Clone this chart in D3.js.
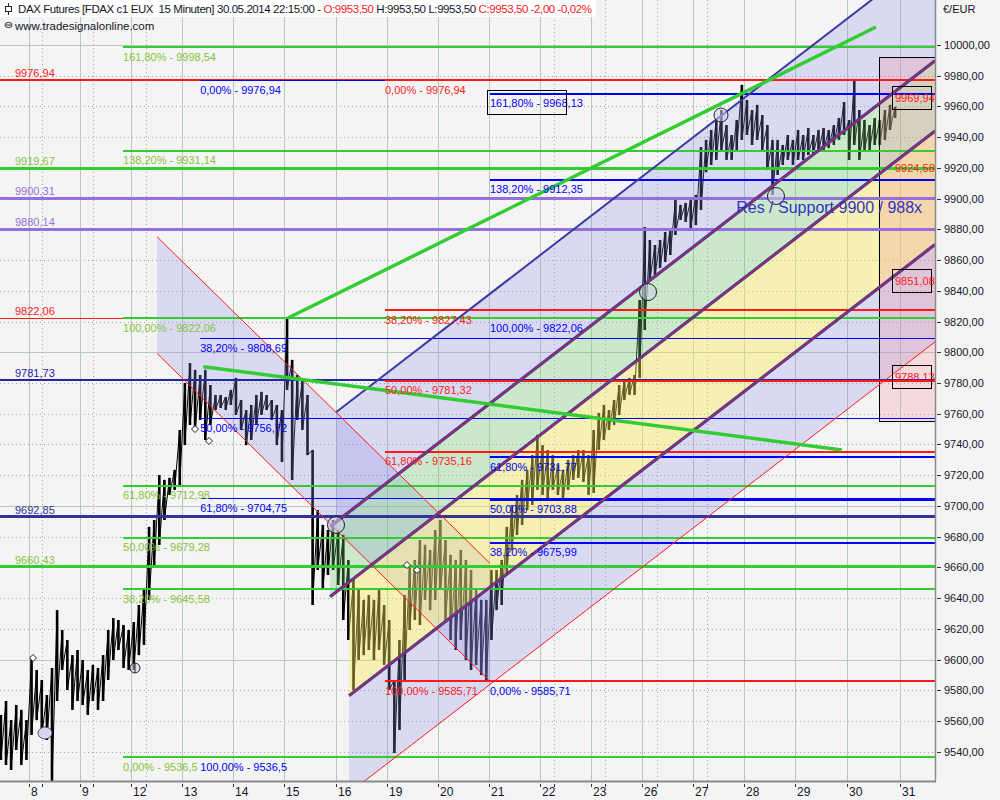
<!DOCTYPE html>
<html><head><meta charset="utf-8">
<script src="https://cdn.jsdelivr.net/npm/d3@7"></script>
<style>
body{margin:0;background:#f4f4f4;}
svg{display:block;font-family:"Liberation Sans",Arial,sans-serif;}
</style>
</head><body><svg id="c" width="1000" height="800"></svg>
<script>
// ---------------- DATA ----------------
const dayLabels = ["8","9","12","13","14","15","16","19","20","21","22","23","26","27","28","29","30","31"];
const dayTicks  = [0,1,2,3,4,5,6,7,8,9,10,11,12,13,14,15,16,17.05];
const minorTickDays = [0.26,1.26,2.28,10.27,11.28,12.28,13.27];
const yTicks = [9540,9560,9580,9600,9620,9640,9660,9680,9700,9720,9740,9760,9780,9800,9820,9840,9860,9880,9900,9920,9940,9960,9980,10000];
const yTickLabels = yTicks.map(v => v.toFixed(2).replace(".", ","));

const headerParts = ["DAX Futures [FDAX c1 EUX  15 Minuten] 30.05.2014 22:15:00 - ", "O:9953,50", " H:9953,50 L:9953,50 ", "C:9953,50 -2,00 -0,02%"];
const subTitle = "www.tradesignalonline.com";
const unitLabel = "€/EUR";

// price buckets (time in trading-day index; 0 = May 8)
const priceStart = -0.55, priceStep = 0.1;
const priceHigh = [9563.9,9573.0,9560.6,9570.4,9567.2,9560.6,9601.0,9593.2,9586.7,9576.9,
 9594.5,9632.2,9619.2,9612.7,9602.9,9606.2,9599.7,9593.2,9596.5,9594.5,
 9602.9,9619.2,9627.0,9625.7,9622.5,9619.2,9624.4,9635.5,9645.3,9686.3,
 9690.8,9720.1,9716.9,9718.2,9723.4,9749.4,9780.0,9793.0,9788.5,9785.2,
 9788.5,9778.7,9772.2,9772.2,9770.9,9775.5,9783.3,9768.9,9762.4,9765.7,
 9772.2,9774.2,9772.2,9768.9,9765.7,9762.4,9822.3,9795.0,9785.2,9782.0,
 9772.2,9736.4,9697.3,9687.6,9684.3,9690.8,9684.3,9681.1,9664.8,9651.8,
 9645.3,9638.8,9642.0,9638.8,9645.3,9635.5,9625.7,9586.7,9612.7,9642.0,
 9661.5,9664.8,9677.8,9674.6,9671.3,9684.3,9690.8,9677.8,9668.1,9664.8,
 9671.3,9664.8,9658.3,9645.3,9638.8,9638.8,9658.3,9658.3,9664.8,9686.3,
 9700.6,9707.1,9716.9,9723.4,9733.1,9746.2,9739.6,9736.4,9733.1,9726.6,
 9723.4,9729.9,9733.1,9736.4,9736.4,9733.1,9749.4,9760.5,9765.7,9762.4,
 9768.9,9778.7,9782.0,9783.3,9785.2,9834.0,9881.5,9873.1,9869.8,9873.1,
 9878.3,9880.9,9899.1,9895.9,9897.2,9899.1,9902.4,9933.6,9938.2,9944.7,
 9951.2,9957.7,9947.9,9941.4,9951.2,9974.0,9964.2,9957.7,9961.0,9954.4,
 9947.9,9938.2,9938.2,9934.9,9941.4,9938.2,9944.7,9941.4,9946.0,9941.4,
 9944.7,9946.0,9944.7,9947.9,9952.5,9962.9,9951.2,9977.9,9957.7,9951.2,
 9947.9,9952.5,9951.2,9957.7,9961.0,9959.7];
const priceLow = [9534.6,9531.4,9528.1,9541.1,9531.4,9534.6,9550.9,9560.6,9550.9,9547.6,
 9518.3,9573.0,9593.2,9580.2,9567.2,9573.0,9570.4,9563.9,9573.0,9567.2,
 9573.0,9586.7,9599.7,9606.2,9594.5,9593.2,9593.2,9602.9,9609.5,9638.8,
 9661.5,9674.6,9690.8,9707.1,9710.4,9713.6,9739.6,9752.7,9749.4,9755.9,
 9742.9,9752.7,9762.4,9763.7,9762.4,9765.7,9759.2,9749.4,9739.6,9742.9,
 9752.7,9759.2,9762.4,9755.9,9739.6,9728.6,9775.5,9716.9,9755.9,9749.4,
 9733.1,9635.5,9658.3,9645.3,9655.0,9658.3,9648.5,9625.7,9612.7,9580.2,
 9599.7,9602.9,9606.2,9599.7,9606.2,9596.5,9580.2,9539.2,9554.1,9586.7,
 9619.2,9625.7,9622.5,9638.8,9632.2,9638.8,9645.3,9625.7,9612.7,9606.2,
 9612.7,9599.7,9593.2,9596.5,9589.9,9586.0,9612.7,9632.2,9635.5,9655.0,
 9671.3,9681.1,9687.6,9697.3,9700.6,9710.4,9707.1,9703.9,9710.4,9707.1,
 9703.9,9710.4,9716.9,9718.2,9715.6,9707.1,9708.4,9736.4,9742.9,9749.4,
 9752.7,9759.2,9768.9,9772.2,9772.2,9783.3,9814.5,9847.1,9850.3,9854.9,
 9858.8,9863.3,9876.3,9886.1,9884.8,9880.9,9882.8,9892.6,9917.3,9921.9,
 9925.2,9931.7,9925.2,9925.2,9931.7,9938.2,9941.4,9934.9,9938.2,9931.7,
 9918.6,9902.4,9915.4,9921.9,9925.2,9921.9,9925.2,9925.2,9928.4,9928.4,
 9930.4,9931.7,9932.9,9934.9,9938.2,9941.4,9925.2,9934.9,9925.2,9931.7,
 9931.7,9934.9,9934.9,9938.2,9944.7,9952.5];

// full-width horizontal levels
const levelValues = [9976.94, 9919.67, 9900.31, 9880.14, 9822.06, 9781.73, 9692.85, 9660.43];
const levelLabels = ["9976,94","9919,67","9900,31","9880,14","9822,06","9781,73","9692,85","9660,43"];
const levelKinds  = ["red","green","purple","purple","redThin","navy","navyThick","green"];

// Fibonacci drawings
const greenFibStart = 1.84;
const greenFibValues = [9536.5, 9645.58, 9679.28, 9712.98, 9822.06, 9931.14, 9998.54];
const greenFibLabels = ["0,00% - 9536,5","38,20% - 9645,58","50,00% - 9679,28","61,80% - 9712,98","100,00% - 9822,06","138,20% - 9931,14","161,80% - 9998,54"];
const blueFib1Start = 3.35;
const blueFib1Values = [9976.94, 9808.69, 9756.72, 9704.75, 9536.5];
const blueFib1Labels = ["0,00% - 9976,94","38,20% - 9808,69","50,00% - 9756,72","61,80% - 9704,75","100,00% - 9536,5"];
const redFibStart = 6.967;
const redFibValues = [9976.94, 9827.43, 9781.32, 9735.16, 9585.71];
const redFibLabels = ["0,00% - 9976,94","38,20% - 9827,43","50,00% - 9781,32","61,80% - 9735,16","100,00% - 9585,71"];
const blueFib2Start = 9.02;
const blueFib2Values = [9585.71, 9675.99, 9703.88, 9731.77, 9822.06, 9912.35, 9968.13];
const blueFib2Labels = ["0,00% - 9585,71","38,20% - 9675,99","50,00% - 9703,88","61,80% - 9731,77","100,00% - 9822,06","138,20% - 9912,35","161,80% - 9968,13"];

// rising channel lines (start day/price, end day/price)
const chStartDay   = [6.008, 5.89, 5.89, 6.262, 6.262];
const chStartPrice = [9760.9, 9686.5, 9640.8, 9576.4, 9513.1];
const chEndDay     = [17.73, 17.73, 17.73, 17.73, 17.73];
const chEndPrice   = [10061.1, 9989.7, 9944.0, 9870.1, 9806.8];
const chBandStartDay = [6.008, 5.89, 6.262, 6.262];
const chBandKinds = ["lav","green","yellow","lav"];

// falling channel
const dcStartDay = 2.505, dcEndDay = 9.022;
const dcUpper = [9875.2, 9662.6];
const dcLower = [9799.3, 9585.7];

// green trend lines
const trendStartDay   = [5.069, 3.411];
const trendStartPrice = [9822.3, 9790.6];
const trendEndDay     = [16.575, 15.904];
const trendEndPrice   = [10011.7, 9736.4];

// markers
const markerDay   = [0.313, 2.074, 6.008, 12.114, 13.542, 14.618, 0.078, 3.249, 3.523, 7.397, 7.593];
const markerPrice = [9552.2, 9594.5, 9687.6, 9839.2, 9954.4, 9901.7, 9601.0, 9750.0, 9742.2, 9661.5, 9658.3];
const markerKind  = ["blob","small","big","big","mid","big","dia","dia","dia","dia","dia"];

// right projection box
const boxStartDay = 16.634, boxTopPrice = 9992.2, boxBottomPrice = 9755.3;
const boxLabelValues = [9969.94, 9924.58, 9851.08, 9788.13];
const boxLabelTexts  = ["9969,94","9924,58","9851,08","9788,13"];
const boxLabelFramed = [true, false, true, true];

const noteText = "Res / Support 9900 / 988x";
const noteDay = 13.84, notePrice = 9890.6;

// ---------------- STYLES ----------------
const C = {
  bg:"#f4f4f4", gridV:"#b7cab7", gridDot:"#a6a6a6", axis:"#8a8a8a",
  red:"#ff1a1a", green:"#33cc33", greenTxt:"#86c43a", purple:"#9370db",
  navy:"#2424a6", navyThick:"#333399", blue:"#0000ff", chan:"#3b3ba3",
  text:"#141428"
};
const levelStyle = {
  red:{c:C.red,w:2,t:C.red}, redThin:{c:C.red,w:1,t:C.red},
  green:{c:C.green,w:3,t:C.greenTxt}, purple:{c:C.purple,w:3,t:C.purple},
  navy:{c:C.navy,w:2,t:C.navy}, navyThick:{c:C.navyThick,w:3,t:C.navyThick}
};
const bandFill = { lav:"rgba(140,140,232,0.26)", green:"rgba(110,205,110,0.30)", yellow:"rgba(250,238,80,0.40)" };

// ---------------- SCALES ----------------
const PR = 935, PB = 781;
const x = d3.scaleLinear().domain([-29/51.1, (935-29)/51.1]).range([0, PR]);
const y = d3.scaleLinear().domain([9540, 10000]).range([751.7, 45]);
const snap = (v, w) => (w % 2 === 1 ? Math.round(y(v) - 0.5) + 0.5 : Math.round(y(v)));

const svg = d3.select("#c");
svg.append("rect").attr("width",1000).attr("height",800).attr("fill",C.bg);
svg.append("defs").append("clipPath").attr("id","clip")
  .append("rect").attr("x",0).attr("y",0).attr("width",PR).attr("height",PB);
const g = svg.append("g").attr("clip-path","url(#clip)");

// ---------------- GRID ----------------
const grid = g.append("g");
yTicks.forEach(v => {
  const yy = Math.round(y(v)) + 0.5;
  const solid = v % 100 === 0;
  grid.append("line").attr("x1",0).attr("x2",PR).attr("y1",yy).attr("y2",yy)
    .attr("stroke", solid ? C.gridV : C.gridDot).attr("stroke-width",1)
    .attr("stroke-dasharray", solid ? null : "1,3");
});
dayTicks.forEach(d => {
  const xx = Math.round(x(d)) + 0.5;
  grid.append("line").attr("x1",xx).attr("x2",xx).attr("y1",0).attr("y2",PB)
    .attr("stroke",C.gridV).attr("stroke-width",1);
});
minorTickDays.forEach(d => {
  const xx = Math.round(x(d)) + 0.5;
  grid.append("line").attr("x1",xx).attr("x2",xx).attr("y1",0).attr("y2",PB)
    .attr("stroke",C.gridDot).attr("stroke-dasharray","1,3");
});

// ---------------- PRICE (15-min range bars) ----------------
const pX = i => x(priceStart + i*priceStep);
const idx = d3.range(priceHigh.length);
let dp = "";
idx.forEach(i => {
  dp += (i ? "L" : "M") + pX(i).toFixed(1) + "," + y(priceHigh[i]).toFixed(1) + "L" + pX(i).toFixed(1) + "," + y(priceLow[i]).toFixed(1);
});
g.append("path").attr("d",dp).attr("fill","none").attr("stroke","#000").attr("stroke-width",1);
g.selectAll("rect.bar").data(idx).join("rect").attr("class","bar")
  .attr("x", i => pX(i) - 1.3).attr("width", 2.6)
  .attr("y", i => y(priceHigh[i])).attr("height", i => Math.max(1, y(priceLow[i]) - y(priceHigh[i])))
  .attr("fill","#000");

// ---------------- FILLS ----------------
const lineP = (k, d) => chStartPrice[k] + (chEndPrice[k]-chStartPrice[k]) * (d - chStartDay[k]) / (chEndDay[k]-chStartDay[k]);
const endD = x.domain()[1];
g.append("path").attr("d", d3.line()([
  [x(dcStartDay), y(dcUpper[0])],[x(dcEndDay), y(dcUpper[1])],
  [x(dcEndDay), y(dcLower[1])],[x(dcStartDay), y(dcLower[0])]]) + "Z")
  .attr("fill", bandFill.lav);
chBandKinds.forEach((kind,k) => {
  const s = chBandStartDay[k];
  g.append("path").attr("d", d3.line()([
    [x(s), y(lineP(k,s))],[x(endD), y(lineP(k,endD))],
    [x(endD), y(lineP(k+1,endD))],[x(s), y(lineP(k+1,s))]]) + "Z")
    .attr("fill", bandFill[kind]);
});
g.append("rect").attr("x", Math.round(x(boxStartDay)) + 0.5).attr("y", Math.round(y(boxTopPrice)) + 0.5)
  .attr("width", PR - x(boxStartDay) + 2).attr("height", Math.round(y(boxBottomPrice) - y(boxTopPrice)))
  .attr("fill","rgba(248,140,150,0.25)").attr("stroke","#000").attr("stroke-width",1);

// ---------------- HORIZONTAL LEVELS ----------------
const hl = (v, x1, col, w) => { const yy = snap(v, w);
  g.append("line").attr("x1",x1).attr("x2",PR+2).attr("y1",yy).attr("y2",yy).attr("stroke",col).attr("stroke-width",w); };
levelValues.forEach((v,i) => { const s = levelStyle[levelKinds[i]]; hl(v, 0, s.c, s.w); });
blueFib1Values.forEach(v => hl(v, x(blueFib1Start), C.blue, 1));
blueFib2Values.forEach(v => hl(v, x(blueFib2Start), C.blue, 2));
redFibValues.forEach(v => hl(v, x(redFibStart), C.red, 2));
greenFibValues.forEach(v => hl(v, x(greenFibStart), C.green, 2));

// ---------------- CHANNEL LINES ----------------
const seg = (d0,p0,d1,p1,col,w) => g.append("line").attr("x1",x(d0)).attr("y1",y(p0))
  .attr("x2",x(d1)).attr("y2",y(p1)).attr("stroke",col).attr("stroke-width",w);
seg(dcStartDay, dcUpper[0], dcEndDay, dcUpper[1], C.red, 1);
seg(dcStartDay, dcLower[0], dcEndDay, dcLower[1], C.red, 1);
chStartDay.forEach((d,k) => {
  if (k === 0) seg(d, chStartPrice[k], chEndDay[k], chEndPrice[k], C.chan, 2);
  else if (k < 4) { seg(d, chStartPrice[k], chEndDay[k], chEndPrice[k], C.chan, 3.2);
                    seg(d, chStartPrice[k], chEndDay[k], chEndPrice[k], C.red, 1); }
  else seg(d, chStartPrice[k], chEndDay[k], chEndPrice[k], C.red, 1);
});
trendStartDay.forEach((d,k) => seg(d, trendStartPrice[k], trendEndDay[k], trendEndPrice[k], C.green, 3.5));

// ---------------- MARKERS ----------------
markerKind.forEach((kind,i) => {
  const cx = x(markerDay[i]), cy = y(markerPrice[i]);
  if (kind === "dia") {
    g.append("path").attr("d",`M${cx},${cy-3.5}L${cx+3.5},${cy}L${cx},${cy+3.5}L${cx-3.5},${cy}Z`)
      .attr("fill","#fff").attr("stroke","#222").attr("stroke-width",1);
  } else if (kind === "blob") {
    g.append("ellipse").attr("cx",cx).attr("cy",cy).attr("rx",7).attr("ry",6)
      .attr("fill","#d6d6f2").attr("stroke","#333").attr("stroke-width",0.8);
  } else {
    const r = kind === "small" ? 5 : kind === "mid" ? 7 : 8.5;
    g.append("circle").attr("cx",cx).attr("cy",cy).attr("r",r)
      .attr("fill","rgba(205,205,235,0.55)").attr("stroke","#222").attr("stroke-width",1);
    if (kind === "small") g.append("line").attr("x1",cx).attr("x2",cx).attr("y1",cy-5).attr("y2",cy+5).attr("stroke","#222");
  }
});

// ---------------- LABELS ----------------
const T = (xx, yy, txt, col, size) => g.append("text").attr("x",xx).attr("y",yy).text(txt)
  .attr("fill",col).style("font-size",(size||11)+"px");
levelValues.forEach((v,i) => T(15, y(v) - 3, levelLabels[i], levelStyle[levelKinds[i]].t));
greenFibValues.forEach((v,i) => T(x(greenFibStart), y(v) + 13.5, greenFibLabels[i], C.greenTxt));
blueFib1Values.forEach((v,i) => T(x(blueFib1Start), y(v) + 13.5, blueFib1Labels[i], C.blue));
redFibValues.forEach((v,i) => T(x(redFibStart), y(v) + 13.5, redFibLabels[i], C.red));
blueFib2Values.forEach((v,i) => T(x(blueFib2Start), y(v) + 13.5, blueFib2Labels[i], C.blue));
{
  const v = blueFib2Values[blueFib2Values.length-1];
  g.append("rect").attr("x", Math.round(x(blueFib2Start)) - 2.5).attr("y", Math.round(y(v)) - 3.5).attr("width",79).attr("height",24)
    .attr("fill","none").attr("stroke","#000").attr("stroke-width",1);
}
boxLabelValues.forEach((v,i) => {
  if (boxLabelFramed[i]) g.append("rect").attr("x",892.5).attr("y",Math.round(y(v)) - 4.5).attr("width",39).attr("height",23)
    .attr("fill","none").attr("stroke","#000").attr("stroke-width",1);
  T(895, y(v) + 11, boxLabelTexts[i], C.red);
});
T(x(noteDay), y(notePrice), noteText, "#3434c4", 16);

// ---------------- AXES ----------------
svg.append("line").attr("x1",0).attr("x2",PR+1).attr("y1",PB+0.5).attr("y2",PB+0.5).attr("stroke",C.axis).attr("stroke-width",2);
svg.append("line").attr("x1",PR+0.5).attr("x2",PR+0.5).attr("y1",0).attr("y2",PB).attr("stroke",C.axis).attr("stroke-width",1.5);
yTicks.forEach((v,i) => {
  const yy = Math.round(y(v)) + 0.5;
  svg.append("line").attr("x1",937).attr("x2",941).attr("y1",yy).attr("y2",yy).attr("stroke","#333");
  svg.append("text").attr("x",944).attr("y",y(v)+4).text(yTickLabels[i]).attr("fill",C.text).style("font-size","11px");
});
svg.append("text").attr("x",943).attr("y",13).text(unitLabel).attr("fill",C.text).style("font-size","11px");
dayTicks.forEach((d,i) => {
  const xx = Math.round(x(d)) + 0.5;
  svg.append("line").attr("x1",xx).attr("x2",xx).attr("y1",784).attr("y2",787).attr("stroke","#333");
  svg.append("text").attr("x",xx+1.5).attr("y",796).text(dayLabels[i]).attr("fill",C.text).style("font-size","12px");
});
minorTickDays.forEach(d => {
  const xx = Math.round(x(d)) + 0.5;
  svg.append("line").attr("x1",xx).attr("x2",xx).attr("y1",784).attr("y2",787).attr("stroke","#333");
});

// ---------------- HEADER ----------------
svg.append("rect").attr("x",0).attr("y",0).attr("width",596).attr("height",17).attr("fill","#fff");
svg.append("line").attr("x1",8.5).attr("x2",8.5).attr("y1",3).attr("y2",15).attr("stroke","#222");
svg.append("rect").attr("x",5.5).attr("y",6.5).attr("width",6).attr("height",5).attr("fill","#fff").attr("stroke","#222");
const hdr = svg.append("text").attr("x",18).attr("y",13).style("font-size","11.5px").style("white-space","pre")
  .attr("textLength",574).attr("lengthAdjust","spacing");
const hdrCols = [C.text, "#ff1a1a", C.text, "#ff1a1a"];
headerParts.forEach((p,i) => hdr.append("tspan").text(p).attr("fill",hdrCols[i]));
svg.append("ellipse").attr("cx",8.5).attr("cy",25).attr("rx",3.5).attr("ry",2.6).attr("fill","none").attr("stroke","#333");
svg.append("line").attr("x1",6).attr("x2",11).attr("y1",25).attr("y2",25).attr("stroke","#333");
svg.append("text").attr("x",15).attr("y",30).text(subTitle).attr("fill",C.text).style("font-size","11.5px");
</script></body></html>
